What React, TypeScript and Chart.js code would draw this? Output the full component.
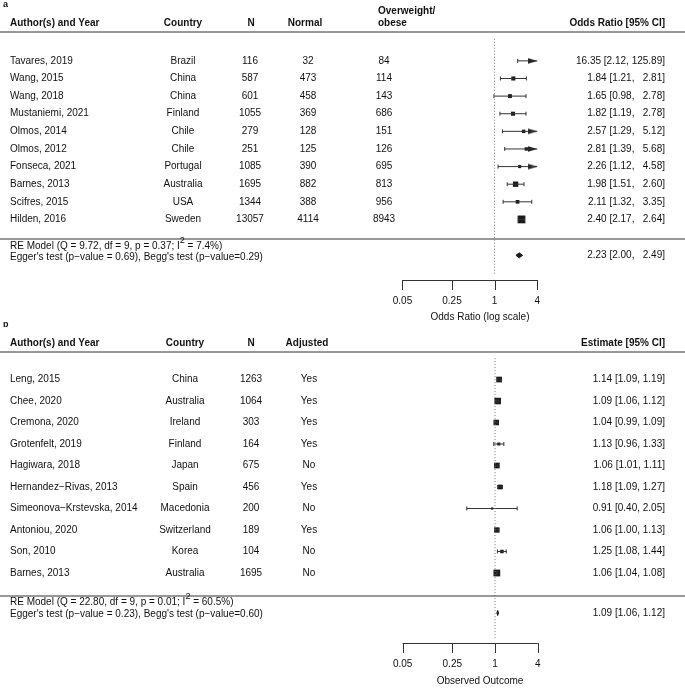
import React, { useEffect, useRef } from "react";
import { Chart, registerables } from "chart.js";
Chart.register(...registerables);

document.body.style.margin = "0";

const FONT = '"Liberation Sans", Arial, Helvetica, sans-serif';
const W = 685;
const X0 = 497.3; // pixel of ratio = 1
const XK = 31.3; // pixels per natural-log unit
const CLIP_LO = 0.05;
const CLIP_HI = 4;
const INK = "#111";
const LINE = "#333";

// ---------------- Panel a data ----------------
const studiesA = ["Tavares, 2019", "Wang, 2015", "Wang, 2018", "Mustaniemi, 2021", "Olmos, 2014", "Olmos, 2012", "Fonseca, 2021", "Barnes, 2013", "Scifres, 2015", "Hilden, 2016"];
const countriesA = ["Brazil", "China", "China", "Finland", "Chile", "Chile", "Portugal", "Australia", "USA", "Sweden"];
const nA = [116, 587, 601, 1055, 279, 251, 1085, 1695, 1344, 13057];
const normalA = [32, 473, 458, 369, 128, 125, 390, 882, 388, 4114];
const obeseA = [84, 114, 143, 686, 151, 126, 695, 813, 956, 8943];
const estA = [16.35, 1.84, 1.65, 1.82, 2.57, 2.81, 2.26, 1.98, 2.11, 2.40];
const lowA = [2.12, 1.21, 0.98, 1.19, 1.29, 1.39, 1.12, 1.51, 1.32, 2.17];
const highA = [125.89, 2.81, 2.78, 2.78, 5.12, 5.68, 4.58, 2.60, 3.35, 2.64];
const weightA = [0.5, 0.78, 0.75, 0.78, 0.66, 0.66, 0.6, 1.03, 0.71, 1.5];
const summaryA = [2.23, 2.0, 2.49];
const reLabelA = ["RE Model (Q = 9.72, df = 9, p = 0.37; I", "2", " = 7.4%)"];
const testLabelA = "Egger's test (p\u2212value = 0.69), Begg's test (p\u2212value=0.29)";

// ---------------- Panel b data ----------------
const studiesB = ["Leng, 2015", "Chee, 2020", "Cremona, 2020", "Grotenfelt, 2019", "Hagiwara, 2018", "Hernandez\u2212Rivas, 2013", "Simeonova\u2212Krstevska, 2014", "Antoniou, 2020", "Son, 2010", "Barnes, 2013"];
const countriesB = ["China", "Australia", "Ireland", "Finland", "Japan", "Spain", "Macedonia", "Switzerland", "Korea", "Australia"];
const nB = [1263, 1064, 303, 164, 675, 456, 200, 189, 104, 1695];
const adjustedB = ["Yes", "Yes", "Yes", "Yes", "No", "Yes", "No", "Yes", "No", "No"];
const estB = [1.14, 1.09, 1.04, 1.13, 1.06, 1.18, 0.91, 1.06, 1.25, 1.06];
const lowB = [1.09, 1.06, 0.99, 0.96, 1.01, 1.09, 0.40, 1.0, 1.08, 1.04];
const highB = [1.19, 1.12, 1.09, 1.33, 1.11, 1.27, 2.05, 1.13, 1.44, 1.08];
const weightB = [1.27, 1.45, 1.23, 0.67, 1.27, 1.05, 0.5, 1.19, 0.78, 1.5];
const summaryB = [1.09, 1.06, 1.12];
const reLabelB = ["RE Model (Q = 22.80, df = 9, p = 0.01; I", "2", " = 60.5%)"];
const testLabelB = "Egger's test (p\u2212value = 0.23), Begg's test (p\u2212value=0.60)";

const axisTicks = [0.05, 0.25, 1, 4];

type Col = { values: string[]; x: number; align: CanvasTextAlign; header: { text: string; x: number; y: number; align: CanvasTextAlign }[] };

type Panel = {
  height: number;
  tag: string;
  tagY: number;
  firstRowPx: number;
  rowPx: number;
  headerLineY: number;
  sepLineY: number;
  reTextY: number;
  testTextY: number;
  summaryY: number;
  axisY: number;
  tickLabelY: number;
  titleY: number;
  dotTopY: number;
  squarePx: number;
  title: string;
  cols: Col[];
  estHeader: string;
  headerY: number;
  est: number[];
  low: number[];
  high: number[];
  weight: number[];
  summary: number[];
  reLabel: string[];
  testLabel: string;
};

function fmtCI(est: number[], low: number[], high: number[], summary: number[]) {
  const e = [...est, summary[0]].map((v) => v.toFixed(2));
  const l = [...low, summary[1]].map((v) => v.toFixed(2));
  const h = [...high, summary[2]].map((v) => v.toFixed(2));
  const we = Math.max(...e.map((s) => s.length));
  const wl = Math.max(...l.map((s) => s.length));
  const wh = Math.max(...h.map((s) => s.length));
  return e.map((_, i) => `${e[i].padStart(we)} [${l[i].padStart(wl)}, ${h[i].padStart(wh)}]`);
}

const panelA: Panel = {
  height: 322,
  tag: "a",
  tagY: 5,
  firstRowPx: 57,
  rowPx: 18.3,
  headerY: 23,
  headerLineY: 32,
  sepLineY: 239,
  reTextY: 246,
  testTextY: 257,
  summaryY: 259,
  axisY: 280,
  tickLabelY: 301,
  titleY: 317,
  dotTopY: 34,
  squarePx: 5.2,
  title: "Odds Ratio (log scale)",
  estHeader: "Odds Ratio [95% CI]",
  cols: [
    { values: studiesA, x: 10, align: "left", header: [{ text: "Author(s) and Year", x: 10, y: 23, align: "left" }] },
    { values: countriesA, x: 183, align: "center", header: [{ text: "Country", x: 183, y: 23, align: "center" }] },
    { values: nA.map(String), x: 250, align: "center", header: [{ text: "N", x: 251, y: 23, align: "center" }] },
    { values: normalA.map(String), x: 308, align: "center", header: [{ text: "Normal", x: 305, y: 23, align: "center" }] },
    {
      values: obeseA.map(String),
      x: 384,
      align: "center",
      header: [
        { text: "Overweight/", x: 378, y: 11, align: "left" },
        { text: "obese", x: 378, y: 23, align: "left" },
      ],
    },
  ],
  est: estA,
  low: lowA,
  high: highA,
  weight: weightA,
  summary: summaryA,
  reLabel: reLabelA,
  testLabel: testLabelA,
};

const panelB: Panel = {
  height: 366,
  tag: "b",
  tagY: 3,
  firstRowPx: 54,
  rowPx: 22.1,
  headerY: 21,
  headerLineY: 30,
  sepLineY: 274,
  reTextY: 280,
  testTextY: 292,
  summaryY: 294,
  axisY: 321,
  tickLabelY: 342,
  titleY: 359,
  dotTopY: 32,
  squarePx: 4.5,
  title: "Observed Outcome",
  estHeader: "Estimate [95% CI]",
  cols: [
    { values: studiesB, x: 10, align: "left", header: [{ text: "Author(s) and Year", x: 10, y: 21, align: "left" }] },
    { values: countriesB, x: 185, align: "center", header: [{ text: "Country", x: 185, y: 21, align: "center" }] },
    { values: nB.map(String), x: 251, align: "center", header: [{ text: "N", x: 251, y: 21, align: "center" }] },
    { values: adjustedB, x: 309, align: "center", header: [{ text: "Adjusted", x: 307, y: 21, align: "center" }] },
  ],
  est: estB,
  low: lowB,
  high: highB,
  weight: weightB,
  summary: summaryB,
  reLabel: reLabelB,
  testLabel: testLabelB,
};

function arrowImage(len: number, half: number, color: string) {
  const c = document.createElement("canvas");
  c.width = Math.round(len * 2);
  c.height = Math.ceil(half * 2) + 2;
  const g = c.getContext("2d")!;
  const cy = c.height / 2;
  g.fillStyle = color;
  g.beginPath();
  g.moveTo(len, cy);
  g.lineTo(0, cy - half);
  g.lineTo(0, cy + half);
  g.closePath();
  g.fill();
  return c;
}

function buildChart(canvas: HTMLCanvasElement, p: Panel) {
  const ln = Math.log;
  const rowOf = (px: number) => (px - p.firstRowPx) / p.rowPx;
  const ci: any[] = [];
  const lcap: any[] = [];
  const rcap: any[] = [];
  const arrows: any[] = [];
  const squares: any[] = [];
  const radii: number[] = [];
  p.est.forEach((e, i) => {
    const lo = Math.max(p.low[i], CLIP_LO);
    const hi = Math.min(p.high[i], CLIP_HI);
    ci.push({ x: ln(lo), y: i }, { x: ln(hi), y: i }, { x: ln(hi), y: null });
    if (p.low[i] >= CLIP_LO) lcap.push({ x: ln(p.low[i]), y: i });
    if (p.high[i] <= CLIP_HI) rcap.push({ x: ln(p.high[i]), y: i });
    else arrows.push({ x: ln(CLIP_HI), y: i });
    if (e >= CLIP_LO && e <= CLIP_HI) {
      squares.push({ x: ln(e), y: i });
      radii.push(p.weight[i] * p.squarePx * Math.SQRT1_2);
    }
  });
  const sRow = rowOf(p.summaryY);
  const dh = 2.6 / p.rowPx;
  const [se, sl, sh] = p.summary;
  const diamond = [
    { x: ln(sl), y: sRow },
    { x: ln(se), y: sRow - dh },
    { x: ln(sh), y: sRow },
    { x: ln(se), y: sRow + dh },
    { x: ln(sl), y: sRow },
  ];
  const ref = [
    { x: 0, y: rowOf(p.dotTopY) },
    { x: 0, y: rowOf(p.axisY) },
  ];
  const ciText = fmtCI(p.est, p.low, p.high, p.summary);

  const plugin = {
    id: "forestDecor",
    beforeDatasetsDraw(chart: any) {
      const ctx = chart.ctx as CanvasRenderingContext2D;
      const xs = chart.scales.x;
      ctx.save();
      ctx.strokeStyle = LINE;
      ctx.lineWidth = 1.2;
      [p.headerLineY, p.sepLineY].forEach((y) => {
        ctx.beginPath();
        ctx.moveTo(0, y);
        ctx.lineTo(W, y);
        ctx.stroke();
      });
      ctx.lineWidth = 1;
      const tx = axisTicks.map((t) => xs.getPixelForValue(ln(t)));
      ctx.beginPath();
      ctx.moveTo(tx[0], p.axisY + 0.5);
      ctx.lineTo(tx[tx.length - 1], p.axisY + 0.5);
      tx.forEach((x) => {
        ctx.moveTo(Math.round(x) + 0.5, p.axisY);
        ctx.lineTo(Math.round(x) + 0.5, p.axisY + 10);
      });
      ctx.stroke();
      ctx.fillStyle = INK;
      ctx.font = `10px ${FONT}`;
      ctx.textAlign = "center";
      ctx.textBaseline = "middle";
      axisTicks.forEach((t, i) => ctx.fillText(String(t), tx[i], p.tickLabelY));
      ctx.fillText(p.title, 480, p.titleY);
      ctx.restore();
    },
    afterDatasetsDraw(chart: any) {
      const ctx = chart.ctx as CanvasRenderingContext2D;
      const ys = chart.scales.y;
      ctx.save();
      ctx.fillStyle = INK;
      ctx.textBaseline = "middle";
      ctx.font = `bold 9px ${FONT}`;
      ctx.textAlign = "left";
      ctx.fillText(p.tag, 3, p.tagY);
      ctx.font = `bold 10px ${FONT}`;
      p.cols.forEach((c) =>
        c.header.forEach((h) => {
          ctx.textAlign = h.align;
          ctx.fillText(h.text, h.x, h.y);
        })
      );
      ctx.textAlign = "right";
      ctx.fillText(p.estHeader, 665, p.headerY);
      ctx.font = `10px ${FONT}`;
      p.cols.forEach((c) => {
        ctx.textAlign = c.align;
        c.values.forEach((v, i) => ctx.fillText(v, c.x, ys.getPixelForValue(i)));
      });
      ctx.textAlign = "right";
      p.est.forEach((_, i) => ctx.fillText(ciText[i], 665, ys.getPixelForValue(i)));
      ctx.fillText(ciText[p.est.length], 665, ys.getPixelForValue(sRow));
      ctx.textAlign = "left";
      let x = 10;
      ctx.fillText(p.reLabel[0], x, p.reTextY);
      x += ctx.measureText(p.reLabel[0]).width;
      ctx.font = `9px ${FONT}`;
      ctx.fillText(p.reLabel[1], x, p.reTextY - 5);
      x += ctx.measureText(p.reLabel[1]).width;
      ctx.font = `10px ${FONT}`;
      ctx.fillText(p.reLabel[2], x, p.reTextY);
      ctx.fillText(p.testLabel, 10, p.testTextY);
      ctx.restore();
    },
  };

  return new Chart(canvas, {
    type: "scatter",
    data: {
      datasets: [
        { data: ref, showLine: true, borderColor: "#777", borderWidth: 1, borderDash: [1, 2], pointRadius: 0 },
        { data: ci, showLine: true, borderColor: LINE, borderWidth: 1, pointRadius: 0, spanGaps: false },
        { data: lcap, pointStyle: "line", rotation: 90, pointRadius: 2, borderColor: LINE, borderWidth: 1 },
        { data: rcap, pointStyle: "line", rotation: 90, pointRadius: 2, borderColor: LINE, borderWidth: 1 },
        { data: arrows, pointStyle: arrowImage(9, 2.8, "#222"), pointRadius: 5 },
        { data: squares, pointStyle: "rect", pointRadius: radii, backgroundColor: "#1b1b1b", borderWidth: 0 },
        {
          data: diamond,
          showLine: true,
          fill: "shape",
          backgroundColor: "#1b1b1b",
          borderColor: "#1b1b1b",
          borderWidth: 1,
          pointRadius: 0,
          tension: 0,
        },
      ] as any,
    },
    options: {
      animation: false,
      responsive: false,
      maintainAspectRatio: false,
      devicePixelRatio: 1,
      events: [],
      layout: { padding: 0 },
      plugins: { legend: { display: false }, tooltip: { enabled: false } },
      scales: {
        x: { type: "linear", display: false, min: -X0 / XK, max: (W - X0) / XK },
        y: {
          type: "linear",
          display: false,
          reverse: true,
          min: -p.firstRowPx / p.rowPx,
          max: (p.height - p.firstRowPx) / p.rowPx,
        },
      },
    },
    plugins: [plugin],
  } as any);
}

function ForestPanel({ panel }: { panel: Panel }) {
  const ref = useRef<HTMLCanvasElement>(null);
  useEffect(() => {
    const chart = buildChart(ref.current!, panel);
    return () => chart.destroy();
  }, [panel]);
  return <canvas ref={ref} width={W} height={panel.height} style={{ display: "block", width: W, height: panel.height }} />;
}

export default function App() {
  return (
    <div style={{ width: W, height: 688, background: "#fff" }}>
      <ForestPanel panel={panelA} />
      <ForestPanel panel={panelB} />
    </div>
  );
}
